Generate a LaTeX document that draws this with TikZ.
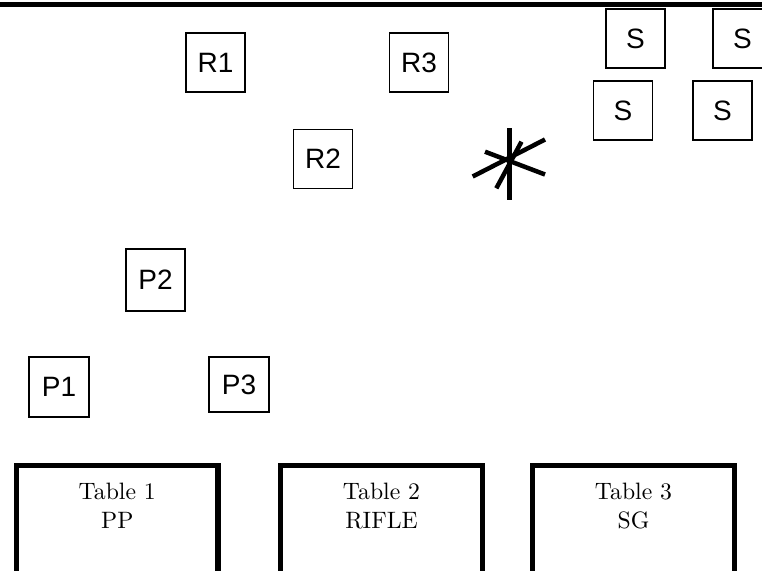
\documentclass[tikz,border=0pt]{standalone}
\usepackage{fontspec}
\newfontfamily\labfont{Liberation Sans}
\newcommand{\tabtext}[1]{\scalebox{2.37}{\fontsize{10}{12.24}\selectfont\begin{tabular}{@{}c@{}}#1\end{tabular}}}
\begin{document}
\begin{tikzpicture}[x=1pt,y=-1pt,
  posbox/.style={draw=black,line width=1.8pt,inner sep=0pt,minimum width=59pt,minimum height=59pt,
    font=\labfont\fontsize{28}{32}\selectfont},
  tabletext/.style={inner sep=0pt,align=center,anchor=north},
  tablewall/.style={line width=5.5pt,line join=miter},
  starline/.style={line width=4.5pt}]
\useasboundingbox (0,0) rectangle (762,570);
\clip (0,0) rectangle (762,570);
% wall
\draw[line width=5.5pt] (-10,4.5) -- (772,4.5);
% R positions
\node[posbox] (r1) at (215.5,62.5) {R1};
\node[posbox] (r3) at (419,62.5) {R3};
\node[posbox] (r2) at (323,159) {R2};
% S positions
\node[posbox] (s1) at (635.5,38.7) {S};
\node[posbox] (s2) at (742.5,38.7) {S};
\node[posbox] (s3) at (623,110.5) {S};
\node[posbox] (s4) at (722.5,110.5) {S};
% P positions
\node[posbox,minimum height=62pt] (p2) at (155.5,280) {P2};
\node[posbox,minimum width=60pt,minimum height=60pt] (p1) at (59,387) {P1};
\node[posbox,minimum width=60pt,minimum height=55pt] (p3) at (239,384.5) {P3};
% asterisk
\draw[starline] (509.3,128) -- (509.3,200);
\draw[starline] (472.7,176.5) -- (545,139.5);
\draw[starline] (485,151.7) -- (545,174.5);
\draw[starline] (496.3,188.3) -- (521.5,141.7);
% tables
\draw[tablewall] (16.5,590) -- (16.5,465.5) -- (218,465.5) -- (218,590);
\draw[tablewall] (280.5,590) -- (280.5,465.5) -- (482.5,465.5) -- (482.5,590);
\draw[tablewall] (532.5,590) -- (532.5,465.5) -- (734.5,465.5) -- (734.5,590);
\node[tabletext] (t1) at (117.25,478.5) {\tabtext{Table 1\\PP}};
\node[tabletext] (t2) at (381.5,478.5) {\tabtext{Table 2\\RIFLE}};
\node[tabletext] (t3) at (633.5,478.5) {\tabtext{Table 3\\SG}};
\end{tikzpicture}
\end{document}
